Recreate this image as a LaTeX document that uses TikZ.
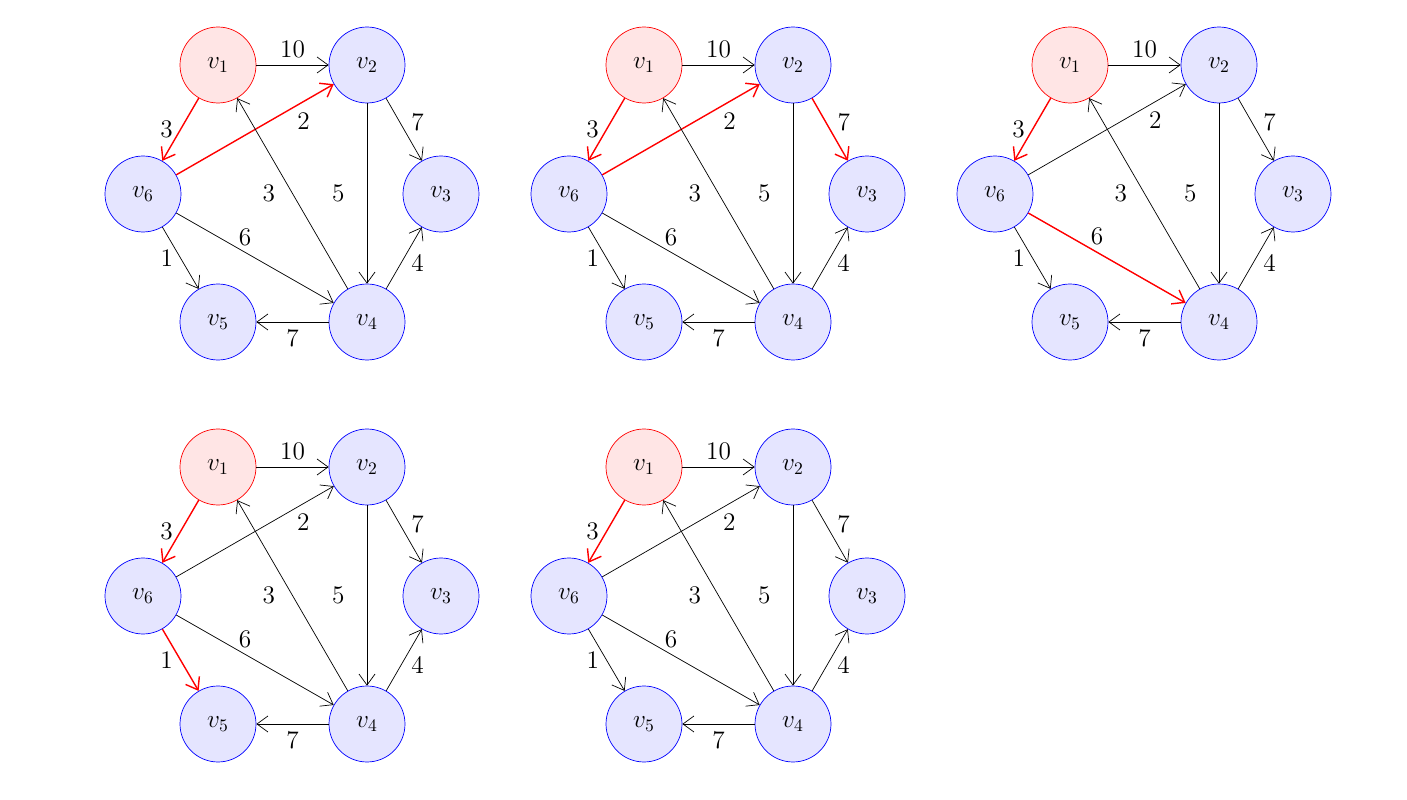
\documentclass[tikz,border=0pt]{standalone}
\usetikzlibrary{arrows.meta}
\tikzset{
  vtx/.style={circle, draw=blue, fill=blue!10, minimum size=1.52cm, inner sep=0pt, font=\Large},
  src/.style={vtx, draw=red, fill=red!10},
  arr/.style={-{Straight Barb[length=2.2mm,width=3.2mm]}, black, thin},
  hot/.style={arr, red, thick},
  lbl/.style={font=\Large, text=black, inner sep=4pt},
  e12/.style=arr, e16/.style=arr, e62/.style=arr, e23/.style=arr, e24/.style=arr,
  e41/.style=arr, e43/.style=arr, e45/.style=arr, e65/.style=arr, e64/.style=arr
}
% #1 prefix, #2 shift, #3 red edges
\newcommand{\drawgraph}[3]{
\begin{scope}[shift={#2}, #3]
\node[src] (#1v1) at (218,65) {$v_1$};
\node[vtx] (#1v2) at (367,65) {$v_2$};
\node[vtx] (#1v3) at (441,194) {$v_3$};
\node[vtx] (#1v4) at (367,322) {$v_4$};
\node[vtx] (#1v5) at (218,322) {$v_5$};
\node[vtx] (#1v6) at (143,194) {$v_6$};
\draw[e12] (#1v1) -- (#1v2) node[lbl, midway, above] {10};
\draw[e16] (#1v1) -- (#1v6) node[lbl, midway, left] {3};
\draw[e62] (#1v6) -- (#1v2) node[lbl, pos=0.72, below right, yshift=1mm] {2};
\draw[e23] (#1v2) -- (#1v3) node[lbl, midway, right, yshift=1.5mm] {7};
\draw[e24] (#1v2) -- (#1v4) node[lbl, midway, left, xshift=-3mm] {5};
\draw[e41] (#1v4) -- (#1v1) node[lbl, midway, left, xshift=-2mm] {3};
\draw[e43] (#1v4) -- (#1v3) node[lbl, midway, right, yshift=-1mm] {4};
\draw[e45] (#1v4) -- (#1v5) node[lbl, midway, below] {7};
\draw[e65] (#1v6) -- (#1v5) node[lbl, midway, left] {1};
\draw[e64] (#1v6) -- (#1v4) node[lbl, midway, above, xshift=-2mm, yshift=1mm] {6};
\end{scope}
}
\begin{document}
\begin{tikzpicture}[x=0.02cm, y=-0.02cm]
\useasboundingbox (0,0) rectangle (1407,800);
\drawgraph{a}{(0,0)}{e16/.style=hot, e62/.style=hot}
\drawgraph{b}{(426,0)}{e16/.style=hot, e62/.style=hot, e23/.style=hot}
\drawgraph{c}{(852,0)}{e16/.style=hot, e64/.style=hot}
\drawgraph{d}{(0,402)}{e16/.style=hot, e65/.style=hot}
\drawgraph{e}{(426,402)}{e16/.style=hot}
\end{tikzpicture}
\end{document}
